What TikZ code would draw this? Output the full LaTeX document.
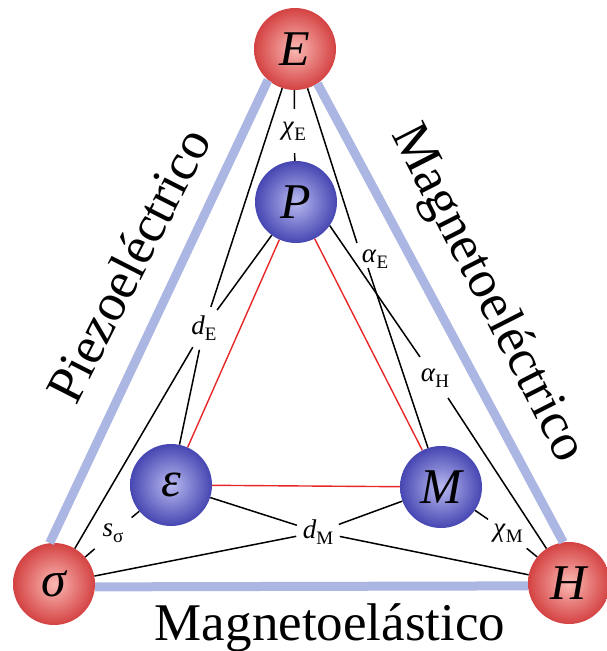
\documentclass[tikz,border=0pt]{standalone}
\usepackage{fontspec}
\setmainfont{Liberation Serif}
\usepackage{xcolor}
\usepackage{tikz}
\usetikzlibrary{positioning,calc}
\definecolor{ballredin}{RGB}{250,185,180}
\definecolor{ballredout}{RGB}{212,66,66}
\definecolor{ballbluein}{RGB}{185,185,240}
\definecolor{ballblueout}{RGB}{70,70,178}
\definecolor{bandblue}{RGB}{172,182,226}
\definecolor{trired}{RGB}{232,40,40}
\newcommand{\coefsub}[2]{\textit{#1}\raisebox{-0.22em}{\fontsize{19}{19}\selectfont #2}}

\begin{document}
\begin{tikzpicture}[
  x=1pt, y=-1pt,
  sphere/.style={circle, minimum size=82pt, inner sep=0pt, font=\fontsize{50}{60}\selectfont\itshape},
  redball/.style={sphere, inner color=ballredin, outer color=ballredout},
  blueball/.style={sphere, inner color=ballbluein, outer color=ballblueout},
  coef/.style={circle, minimum size=44pt, inner sep=1pt, font=\fontsize{27}{30}\selectfont},
  link/.style={black, line width=1.5pt},
  tri/.style={trired, line width=1.4pt},
  band/.style={bandblue, line width=9pt},
  effect/.style={font=\fontsize{53}{60}\selectfont},
]
\useasboundingbox (0,0) rectangle (606,651);

% ---------------- spheres ----------------
\node[redball]  (E)     at (295,49)  {E};
\node[blueball] (P)     at (296,202) {P};
\node[blueball] (eps)   at (171,485) {ε};
\node[blueball] (M)     at (441,487) {M};
\node[redball]  (sigma) at (54,584)  {σ};
\node[redball]  (H)     at (569,583) {H};

% ---------------- bands (outer triangle) ----------------
\draw[band] (E.229) -- (sigma.96);
\draw[band] (E.-57) -- (H.98);
\draw[band] (sigma.-4) -- (H.184);

% ---------------- coefficients ----------------
\node[coef] (chiE) at (294,131) {\coefsub{χ}{E}};
\node[coef] (dE)   at (204,328) {\coefsub{d}{E}};
\node[inner sep=0pt, font=\fontsize{27}{30}\selectfont] (aE) at (375,259) {\coefsub{α}{E}};
\node[inner sep=0pt, font=\fontsize{27}{30}\selectfont] (aH) at (435,378) {\coefsub{α}{H}};
\node[coef, minimum size=48pt] (sS)   at (113,533) {\coefsub{s}{σ}};
\node[coef] (dM)   at (318,532) {\coefsub{d}{M}};
\node[coef, minimum size=48pt] (chiM) at (508,533) {\coefsub{χ}{M}};

% ---------------- couplings ----------------
\draw[link] (E) -- (chiE);
\draw[link] (chiE) -- (P);
\draw[link] (E) -- (dE);
\draw[link] (P) -- (dE);
\draw[link] (dE) -- (sigma);
\draw[link] (dE) -- (eps);
\draw[link] (E) -- ([shift={(-18,-16)}]aE.center);
\draw[link] ([shift={(-7,9)}]aE.center) -- (M);
\draw[link] (P.-35) -- ([shift={(-15,-21)}]aH.center);
\draw[link] ([shift={(13,20)}]aH.center) -- (H);
\draw[link] (sigma) -- (sS);
\draw[link] (sS) -- (eps);
\draw[link] (eps) -- (dM);
\draw[link] (sigma) -- (dM);
\draw[link] (dM) -- (M);
\draw[link] (dM) -- (H);
\draw[link] (M) -- (chiM);
\draw[link] (chiM) -- (H);

% ---------------- inner triangle ----------------
\draw[tri] (P) -- (eps);
\draw[tri] (P) -- (M);
\draw[tri] (eps) -- (M);

% ---------------- effect names ----------------
\node[effect, rotate=63]  (piezo)   at (128,265) {Piezoeléctrico};
\node[effect, rotate=-63] (magel)   at (487,294) {Magnetoeléctrico};
\node[effect, anchor=base] (magelas) at (330,640) {Magnetoelástico};
\end{tikzpicture}
\end{document}
